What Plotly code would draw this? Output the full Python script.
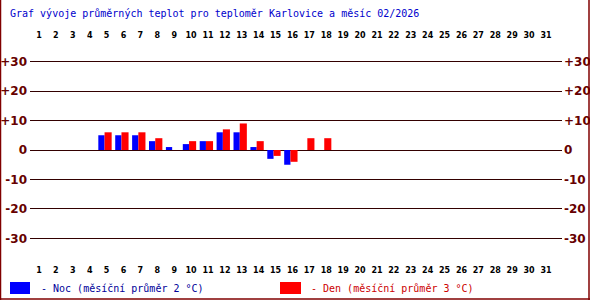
import plotly.graph_objects as go

days = list(range(1, 32))
day_labels = [str(d) for d in days]
noc = [None, None, None, None, 5, 5, 5, 3, 1, 2, 3, 6, 6, 1, -3, -5, 0, 0] + [None] * 13
den = [None, None, None, None, 6, 6, 6, 4, 0, 3, 3, 7, 9, 3, -2, -4, 4, 4] + [None] * 13
y_ticks = [30, 20, 10, 0, -10, -20, -30]
y_labels = ["+30", "+20", "+10", "0", "-10", "-20", "-30"]
title_text = "Graf vývoje průměrných teplot pro teploměr Karlovice a měsíc 02/2026"
noc_label = "- Noc (měsíční průměr 2 °C)"
den_label = "- Den (měsíční průměr 3 °C)"

W, H = 590, 300
def px(x):
    return x / W
def py(y):
    return 1 - y / H

fig = go.Figure()
fig.add_trace(go.Bar(x=days, y=noc, marker_color="#0000ff", marker_line_width=0,
                     offset=-0.49, width=0.37, name="Noc", showlegend=False))
fig.add_trace(go.Bar(x=days, y=den, marker_color="#ff0000", marker_line_width=0,
                     offset=-0.12, width=0.42, name="Den", showlegend=False))
# invisible traces to anchor secondary axes
fig.add_trace(go.Scatter(x=[days[0]], y=[0], xaxis="x2", yaxis="y2", mode="markers",
                         marker_opacity=0, showlegend=False, hoverinfo="skip"))

x_range = [0.4675, 31.95]
y_range = [-35.6, 35.6]
xdom = [px(30), px(562)]
ydom = [py(255), py(45)]
tickfont_days = dict(family="DejaVu Sans", size=8, color="#000000", weight="bold")
tickfont_y = dict(family="DejaVu Sans", size=12, color="#660000", weight="bold")

fig.update_layout(
    width=W, height=H,
    margin=dict(l=0, r=0, t=0, b=0),
    paper_bgcolor="white", plot_bgcolor="white",
    barmode="overlay",
    xaxis=dict(domain=xdom, range=x_range, tickvals=days, ticktext=day_labels,
               tickfont=tickfont_days, showgrid=False, zeroline=False, ticks="",
               ticklabelstandoff=9, showline=False, anchor="y", fixedrange=True),
    xaxis2=dict(domain=xdom, range=x_range, tickvals=days, ticktext=day_labels,
                tickfont=tickfont_days, showgrid=False, zeroline=False, ticks="",
                overlaying="x", side="top", anchor="y", ticklabelstandoff=4,
                showline=False),
    yaxis=dict(domain=ydom, range=y_range, tickvals=y_ticks, ticktext=y_labels,
               tickfont=tickfont_y, showgrid=True, gridcolor="#330000", gridwidth=1,
               zeroline=True, zerolinecolor="#330000", zerolinewidth=1,
               ticks="", ticklabelstandoff=2, anchor="x"),
    yaxis2=dict(domain=ydom, range=y_range, tickvals=y_ticks, ticktext=y_labels,
                tickfont=tickfont_y, showgrid=False, zeroline=False, ticks="",
                overlaying="y", side="right", anchor="x", ticklabelstandoff=1),
    shapes=[
        dict(type="rect", xref="paper", yref="paper", x0=px(10), x1=px(30),
             y0=py(294), y1=py(282), fillcolor="#0000ff", line_width=0),
        dict(type="rect", xref="paper", yref="paper", x0=px(280), x1=px(301),
             y0=py(294), y1=py(282), fillcolor="#ff0000", line_width=0),
        dict(type="line", xref="paper", yref="paper", x0=px(0.5), x1=px(0.5),
             y0=0, y1=1, line=dict(color="#800000", width=1.5)),
        dict(type="line", xref="paper", yref="paper", x0=px(589), x1=px(589),
             y0=0, y1=1, line=dict(color="#800000", width=1.5)),
        dict(type="line", xref="paper", yref="paper", x0=0, x1=1,
             y0=py(299), y1=py(299), line=dict(color="#800000", width=1.5)),
    ],
    annotations=[
        dict(text=title_text, xref="paper", yref="paper", x=px(8), y=py(14),
             xanchor="left", yanchor="middle", showarrow=False,
             font=dict(family="DejaVu Sans Mono", size=10, color="#0000cc")),
        dict(text=noc_label, xref="paper", yref="paper", x=px(39), y=py(288),
             xanchor="left", yanchor="middle", showarrow=False,
             font=dict(family="DejaVu Sans Mono", size=10, color="#000099")),
        dict(text=den_label, xref="paper", yref="paper", x=px(309), y=py(288),
             xanchor="left", yanchor="middle", showarrow=False,
             font=dict(family="DejaVu Sans Mono", size=10, color="#cc0000")),
    ],
)

fig.write_html("out.html")
